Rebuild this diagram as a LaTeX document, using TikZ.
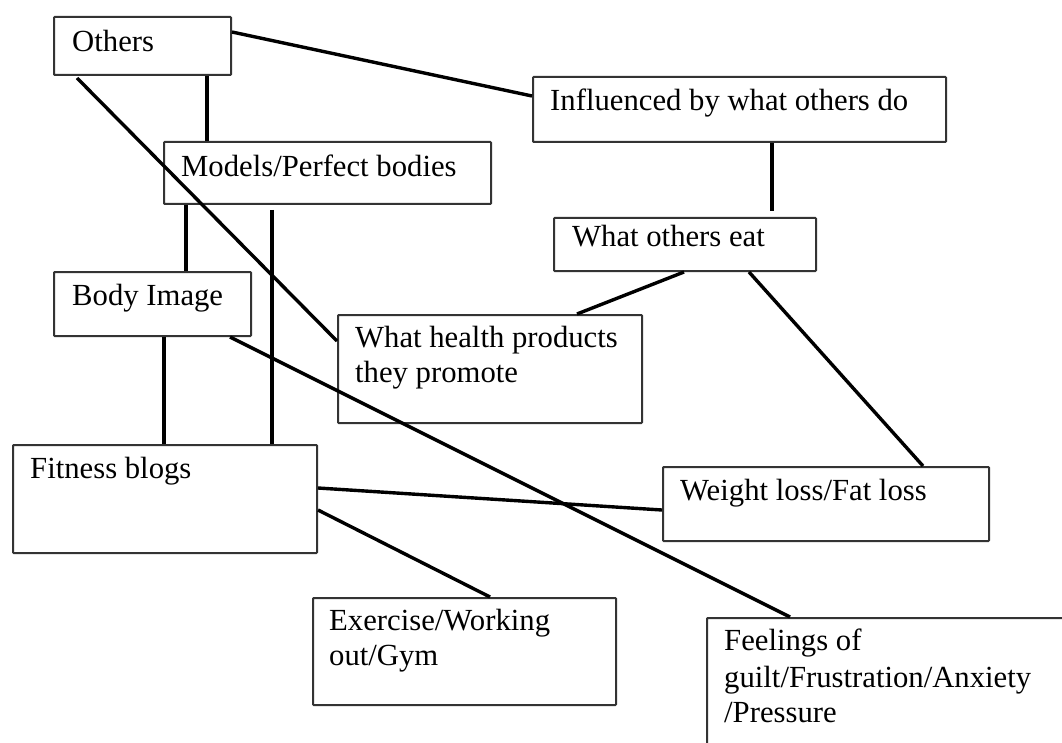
\documentclass[tikz,border=0pt]{standalone}
\usepackage{fontspec}
\setmainfont{Liberation Serif}
\begin{document}
\begin{tikzpicture}[x=1pt,y=-1pt,
  box/.style={draw=black!80,line width=2pt,rounded corners=0.8pt,inner sep=0pt,anchor=north west},
  txt/.style={anchor=base west,inner sep=0pt,font=\fontsize{30.7}{35}\selectfont},
  link/.style={line width=3.4pt,black}]
\clip (0,0) rectangle (1062,743);
\fill[white] (0,0) rectangle (1062,743);
% boxes: top-left corner, width, height
\newcommand{\cbox}[5]{\node[box,minimum width=#4,minimum height=#5] (#1) at (#2,#3) {};}
\cbox{others}{53}{16}{177}{58}
\cbox{infl}{532}{76}{413}{65}
\cbox{models}{163}{141}{327}{62}
\cbox{eat}{553}{217}{262}{53}
\cbox{body}{53}{271}{197}{64}
\cbox{health}{337}{314}{304}{108}
\cbox{fitness}{12}{444}{304}{108}
\cbox{weight}{662}{466}{326}{74}
\cbox{exercise}{312}{597}{303}{107}
\cbox{feel}{706}{617}{380}{150}
% labels
\node[txt] (others-t) at (72,52) {Others};
\node[txt] (infl-t) at (550,111) {Influenced by what others do};
\node[txt] (models-t) at (181,177) {Models/Perfect bodies};
\node[txt] (eat-t) at (572,247) {What others eat};
\node[txt] (body-t) at (72,305) {Body Image};
\node[txt] (health-t1) at (355,347) {What health products};
\node[txt] (health-t2) at (355,382) {they promote};
\node[txt] (fitness-t) at (30,478) {Fitness blogs};
\node[txt] (weight-t) at (680,500) {Weight loss/Fat loss};
\node[txt] (exercise-t1) at (329,630) {Exercise/Working};
\node[txt] (exercise-t2) at (329,665) {out/Gym};
\node[txt] (feel-t1) at (724,650) {Feelings of};
\node[txt] (feel-t2) at (724,687) {guilt/Frustration/Anxiety};
\node[txt] (feel-t3) at (724,722) {/Pressure};
% connectors
\draw[link] ([yshift=-16]others.north east) -- ([yshift=-20]infl.north west);
\draw[link] ([xshift=154]others.south west) -- ([xshift=44]models.north west);
\draw[link] ([xshift=24,yshift=-2]others.south west) -- ([yshift=-27]health.north west);
\draw[link] ([xshift=240]infl.south west) -- ([xshift=219,yshift=6]eat.north west);
\draw[link] ([xshift=131]eat.south west) -- ([xshift=240]health.north west);
\draw[link] ([xshift=196]eat.south west) -- ([xshift=261]weight.north west);
\draw[link] ([xshift=23]models.south west) -- ([xshift=133]body.north west);
\draw[link] ([xshift=109,yshift=-5]models.south west) -- ([xshift=260]fitness.north west);
\draw[link] ([xshift=177]body.south west) -- ([xshift=84]feel.north west);
\draw[link] ([xshift=111]body.south west) -- ([xshift=152]fitness.north west);
\draw[link] ([yshift=-44]fitness.north east) -- ([yshift=-44]weight.north west);
\draw[link] ([yshift=-66]fitness.north east) -- ([xshift=178]exercise.north west);
\end{tikzpicture}
\end{document}
